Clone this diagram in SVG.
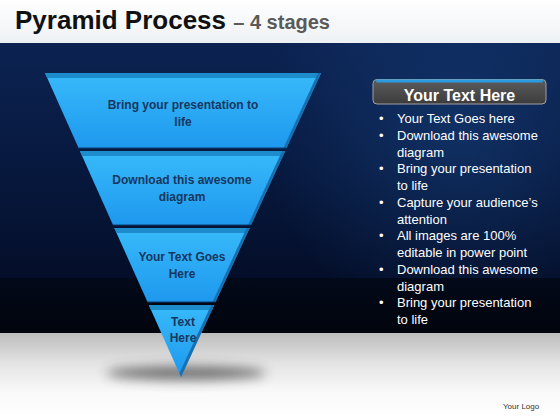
<svg xmlns="http://www.w3.org/2000/svg" width="560" height="420" viewBox="0 0 560 420">
<defs>
<linearGradient id="gTitle" x1="0" y1="0" x2="0" y2="1"><stop offset="0" stop-color="#ffffff"/><stop offset="1" stop-color="#eef1f4"/></linearGradient>
<linearGradient id="gDark" x1="0" y1="0" x2="0" y2="1"><stop offset="0" stop-color="#0c2352"/><stop offset="0.55" stop-color="#07183d"/><stop offset="1" stop-color="#040e29"/></linearGradient>
<linearGradient id="gBand" x1="0" y1="0" x2="0" y2="1"><stop offset="0" stop-color="#020919"/><stop offset="1" stop-color="#01040c"/></linearGradient>
<linearGradient id="gFloor" x1="0" y1="0" x2="0" y2="1"><stop offset="0" stop-color="#bcbcbc"/><stop offset="0.35" stop-color="#e4e4e4"/><stop offset="0.7" stop-color="#fafafa"/><stop offset="1" stop-color="#ffffff"/></linearGradient>
<radialGradient id="gGlow" cx="460" cy="130" r="200" gradientUnits="userSpaceOnUse"><stop offset="0" stop-color="#1a4a8c" stop-opacity="0.45"/><stop offset="1" stop-color="#1a4a8c" stop-opacity="0"/></radialGradient>
<linearGradient id="gFace" x1="0" y1="0" x2="0" y2="1"><stop offset="0" stop-color="#38bafa"/><stop offset="1" stop-color="#1e98ee"/></linearGradient>
<linearGradient id="gHead" x1="0" y1="0" x2="0" y2="1"><stop offset="0" stop-color="#5c5c5c"/><stop offset="1" stop-color="#3c3c3c"/></linearGradient>
<filter id="blur" x="-50%" y="-200%" width="200%" height="500%"><feGaussianBlur stdDeviation="6"/></filter>
<style>
.face{fill:url(#gFace);}
.strip{fill:#1c8ccc;}
.edge{fill:#1670b2;}
.lbl{font-family:"Liberation Sans",Arial,sans-serif;font-weight:bold;font-size:12px;fill:#17375e;text-anchor:middle;}
.bul{font-family:"Liberation Sans",Arial,sans-serif;font-size:13px;fill:#ffffff;}
</style>
</defs>

<rect x="0" y="0" width="560" height="43" fill="url(#gTitle)"/>
<rect x="0" y="43" width="560" height="235" fill="url(#gDark)"/>
<rect x="0" y="43" width="560" height="235" fill="url(#gGlow)"/>
<rect x="0" y="278" width="560" height="55" fill="url(#gBand)"/>
<rect x="0" y="333" width="560" height="87" fill="url(#gFloor)"/>
<ellipse cx="186" cy="373" rx="80" ry="7" fill="#3a3a3a" opacity="0.7" filter="url(#blur)"/>

<text x="15" y="29" font-family="Liberation Sans,Arial,sans-serif" font-weight="bold" font-size="26" fill="#111111">Pyramid Process <tspan font-size="20" fill="#5a5a5a">– 4 stages</tspan></text>

<g id="stage1">
<polygon class="face" points="45,73 321,73 286.5,148 78.6,148"/>
<polygon class="strip" points="45,73 321,73 318.7,78 47.2,78"/>
<polygon class="edge" points="321,73 286.5,148 283.5,148 318,73"/>
<line x1="78.6" y1="148" x2="286.5" y2="148" stroke="#0b3f73" stroke-width="1.2"/>
<text class="lbl" x="183" y="109">Bring your presentation to</text>
<text class="lbl" x="183" y="126">life</text>
</g>
<g id="stage2">
<polygon class="face" points="79.9,151 285.1,151 251,225 113,225"/>
<polygon class="strip" points="79.9,151 285.1,151 282.8,156 82.1,156"/>
<polygon class="edge" points="285.1,151 251,225 248,225 282.1,151"/>
<line x1="113" y1="225" x2="251" y2="225" stroke="#0b3f73" stroke-width="1.2"/>
<text class="lbl" x="182" y="184">Download this awesome</text>
<text class="lbl" x="182" y="201">diagram</text>
</g>
<g id="stage3">
<polygon class="face" points="114.3,228 249.6,228 215.5,302 147.5,302"/>
<polygon class="strip" points="114.3,228 249.6,228 247.3,233 116.6,233"/>
<polygon class="edge" points="249.6,228 215.5,302 212.5,302 246.6,228"/>
<line x1="147.5" y1="302" x2="215.5" y2="302" stroke="#0b3f73" stroke-width="1.2"/>
<text class="lbl" x="182" y="261">Your Text Goes</text>
<text class="lbl" x="182" y="277.5">Here</text>
</g>
<g id="stage4">
<polygon class="face" points="148.8,305 214.2,305 181,377"/>
<polygon class="strip" points="148.8,305 214.2,305 211.9,310 151,310"/>
<polygon class="edge" points="214.2,305 181,377 179.5,373 211.2,305"/>
<text class="lbl" x="183" y="326">Text</text>
<text class="lbl" x="183" y="342">Here</text>
</g>

<g id="connectors"></g>

<g id="panel">
<rect x="373" y="79.5" width="173" height="24.5" rx="4" fill="url(#gHead)" stroke="#a0a0a0" stroke-width="1"/>
<rect x="376" y="79.5" width="167" height="3" rx="1.5" fill="#2a9be0"/>
<text x="459.5" y="101" font-family="Liberation Sans,Arial,sans-serif" font-weight="bold" font-size="16" fill="#ffffff" text-anchor="middle">Your Text Here</text>
<g class="bul">
<text x="379" y="123">•</text><text x="397" y="123">Your Text Goes here</text>
<text x="379" y="139.75">•</text><text x="397" y="139.75">Download this awesome</text>
<text x="397" y="156.5">diagram</text>
<text x="379" y="173.25">•</text><text x="397" y="173.25">Bring your presentation</text>
<text x="397" y="190">to life</text>
<text x="379" y="206.75">•</text><text x="397" y="206.75">Capture your audience’s</text>
<text x="397" y="223.5">attention</text>
<text x="379" y="240.25">•</text><text x="397" y="240.25">All images are 100%</text>
<text x="397" y="257">editable in power point</text>
<text x="379" y="273.75">•</text><text x="397" y="273.75">Download this awesome</text>
<text x="397" y="290.5">diagram</text>
<text x="379" y="307.25">•</text><text x="397" y="307.25">Bring your presentation</text>
<text x="397" y="324">to life</text>
</g>
</g>

<text x="503" y="408.5" font-family="Liberation Sans,Arial,sans-serif" font-size="8" fill="#333333">Your Logo</text>
</svg>
